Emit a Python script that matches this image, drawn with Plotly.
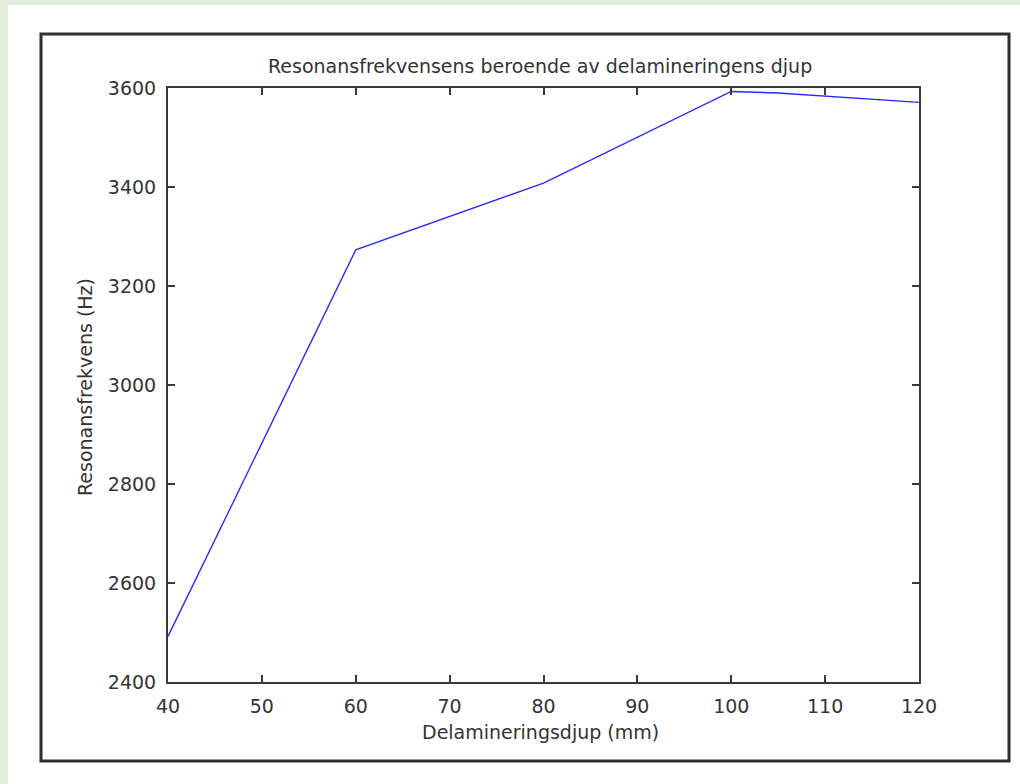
import plotly.graph_objects as go

# Delamination depth (mm) and measured resonance frequency (Hz)
depth_mm = [40, 60, 80, 100, 105, 120]
freq_hz = [2492, 3273, 3408, 3593, 3590, 3571]

x_ticks = [40, 50, 60, 70, 80, 90, 100, 110, 120]
y_ticks = [2400, 2600, 2800, 3000, 3200, 3400, 3600]

W, H = 1020, 784
L, R, T, B = 168, 919, 88, 682


def px(xp):
    return (xp - L) / (R - L)


def py(yp):
    return (B - yp) / (B - T)


fig = go.Figure()
fig.add_trace(go.Scatter(
    x=depth_mm, y=freq_hz, mode="lines",
    line=dict(color="#2a2aff", width=1.4),
    hoverinfo="x+y", showlegend=False,
))

font = dict(family="DejaVu Sans, sans-serif", size=19, color="#333333")

axis_common = dict(
    showgrid=False, zeroline=False,
    showline=True, linecolor="#3a3a3a", linewidth=2,
    mirror="ticks", ticks="inside", ticklen=7, tickwidth=2, tickcolor="#3a3a3a",
    tickfont=font,
)

fig.update_layout(
    width=W, height=H,
    margin=dict(l=L, r=W - R, t=T, b=H - B),
    paper_bgcolor="#e3eeda",
    plot_bgcolor="white",
    xaxis=dict(range=[40, 120], tickvals=x_ticks, ticklabelstandoff=6, **axis_common),
    yaxis=dict(range=[2400, 3600], tickvals=y_ticks, ticklabelstandoff=6, **axis_common),
    shapes=[
        # white card behind the figure
        dict(type="rect", xref="paper", yref="paper",
             x0=px(8), x1=px(W + 5), y0=py(H + 5), y1=py(5),
             fillcolor="white", line=dict(width=0), layer="below"),
        # dark frame around the figure window
        dict(type="rect", xref="paper", yref="paper",
             x0=px(41), x1=px(1009), y0=py(761), y1=py(34),
             fillcolor="rgba(0,0,0,0)", line=dict(color="#2e2e2e", width=3),
             layer="below"),
    ],
    annotations=[
        dict(text="Resonansfrekvensens beroende av delamineringens djup",
             xref="paper", yref="paper", x=px(540), y=py(66),
             showarrow=False, font=font, xanchor="center", yanchor="middle"),
        dict(text="Delamineringsdjup (mm)",
             xref="paper", yref="paper", x=px(540), y=py(732),
             showarrow=False, font=font, xanchor="center", yanchor="middle"),
        dict(text="Resonansfrekvens (Hz)",
             xref="paper", yref="paper", x=px(85), y=py(387),
             showarrow=False, font=font, textangle=-90,
             xanchor="center", yanchor="middle"),
    ],
)

fig.write_html("out.html")
